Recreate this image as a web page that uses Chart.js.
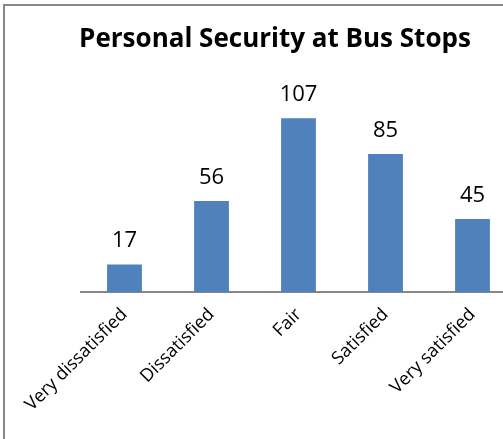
<!DOCTYPE html>
<html>
<head>
<meta charset="utf-8">
<script src="https://cdn.jsdelivr.net/npm/chart.js@4"></script>
<style>
  html, body { margin: 0; padding: 0; width: 503px; height: 439px; overflow: hidden; background: #fff; }
  #frame { position: absolute; left: 3px; top: 4px; width: 600px; height: 500px;
           border-left: 2px solid #878787; border-top: 2px solid #878787; }
  #wrap { position: absolute; left: 0; top: 0; width: 540px; height: 436px; }
</style>
</head>
<body>
<div id="frame"><div id="wrap"><canvas id="c"></canvas></div></div>
<script>
const categories = ["Very dissatisfied", "Dissatisfied", "Fair", "Satisfied", "Very satisfied"];
const counts = [17, 56, 107, 85, 45];
const chartTitle = "Personal Security at Bus Stops";

const valueLabels = {
  id: 'valueLabels',
  afterDatasetsDraw(chart) {
    const ctx = chart.ctx;
    const meta = chart.getDatasetMeta(0);
    ctx.save();
    ctx.font = '22px "Open Sans"';
    ctx.fillStyle = '#000';
    ctx.textAlign = 'center';
    ctx.textBaseline = 'alphabetic';
    meta.data.forEach((bar, i) => {
      ctx.fillText(String(chart.data.datasets[0].data[i]), bar.x, bar.y - 17);
    });
    ctx.restore();
  }
};

const hiddenAxis = (pos, w) => ({
  position: pos,
  display: true,
  min: 0, max: 120,
  grid: { display: false, drawTicks: false },
  border: { display: false },
  ticks: { display: false },
  afterFit(scale) { scale.width = w; }
});

new Chart(document.getElementById('c'), {
  type: 'bar',
  data: {
    labels: categories,
    datasets: [{
      data: counts,
      backgroundColor: '#4F81BD',
      borderWidth: 0,
      categoryPercentage: 1,
      barPercentage: 0.4,
      yAxisID: 'y'
    }]
  },
  options: {
    responsive: true,
    maintainAspectRatio: false,
    animation: false,
    devicePixelRatio: 1,
    layout: { padding: 0 },
    plugins: {
      legend: { display: false },
      tooltip: { enabled: false },
      title: {
        display: true,
        text: chartTitle,
        color: '#000',
        font: { family: '"Open Sans"', size: 26, weight: 'bold', lineHeight: 1.2 },
        padding: { top: 18, bottom: 42 }
      }
    },
    scales: {
      y: hiddenAxis('left', 76),
      y2: hiddenAxis('right', 29),
      x: {
        grid: { display: false },
        border: { display: true, color: '#878787', width: 2 },
        ticks: {
          color: '#000',
          font: { family: '"Open Sans"', size: 18 },
          maxRotation: 45, minRotation: 45,
          padding: 4
        },
        afterFit(scale) { scale.height = 150; }
      }
    }
  },
  plugins: [valueLabels]
});
</script>
</body>
</html>
